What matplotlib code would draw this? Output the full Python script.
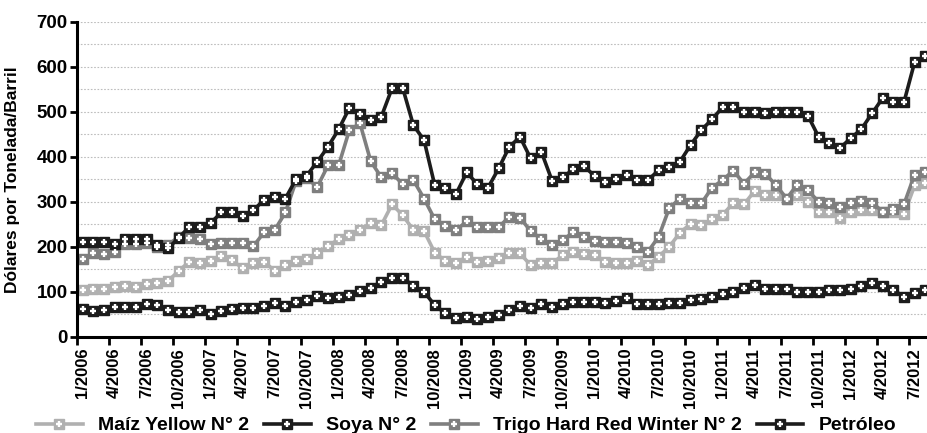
import matplotlib
matplotlib.use("Agg")
import matplotlib.pyplot as plt
from matplotlib.ticker import FixedLocator, MultipleLocator

plt.rcParams['font.family'] = ['Liberation Sans', 'DejaVu Sans']
plt.rcParams['font.weight'] = 'bold'

# monthly values, 1/2006 .. 8/2012
maiz = [104, 107, 106, 111, 113, 111, 116, 119, 124, 146, 167, 163,
        168, 180, 170, 152, 163, 167, 146, 159, 168, 172, 185, 201,
        217, 227, 237, 252, 248, 294, 270, 237, 235, 187, 168, 163,
        178, 167, 168, 174, 185, 185, 159, 163, 163, 181, 189, 183,
        181, 167, 164, 163, 168, 159, 178, 200, 231, 251, 248, 261,
        271, 297, 294, 324, 314, 315, 307, 315, 300, 278, 276, 263,
        276, 281, 281, 278, 278, 272, 336, 341]

soya = [211, 211, 210, 207, 218, 217, 218, 204, 196, 220, 244, 244,
        253, 276, 276, 268, 281, 304, 311, 307, 350, 358, 389, 422,
        461, 508, 495, 481, 489, 552, 553, 470, 437, 337, 330, 317,
        365, 339, 331, 374, 422, 444, 396, 411, 347, 354, 372, 379,
        357, 344, 350, 359, 348, 348, 370, 378, 389, 426, 459, 483,
        510, 511, 499, 500, 496, 499, 500, 500, 491, 444, 430, 419,
        441, 461, 496, 530, 521, 521, 610, 624]

trigo = [172, 185, 183, 189, 205, 207, 209, 199, 204, 222, 219, 216,
         205, 209, 209, 209, 201, 232, 237, 276, 346, 352, 333, 381,
         381, 459, 474, 390, 354, 363, 339, 348, 307, 261, 247, 237,
         256, 243, 243, 243, 267, 264, 235, 217, 204, 215, 232, 221,
         213, 210, 211, 208, 200, 189, 222, 286, 307, 296, 296, 331,
         348, 369, 340, 365, 362, 337, 307, 338, 325, 300, 297, 289,
         298, 301, 298, 278, 283, 294, 360, 365]

petroleo = [61, 58, 59, 67, 67, 67, 72, 70, 59, 56, 56, 59,
            50, 58, 61, 64, 63, 68, 74, 69, 78, 81, 90, 87,
            89, 93, 102, 109, 122, 130, 131, 113, 100, 70, 52, 41,
            44, 39, 44, 48, 59, 69, 63, 72, 67, 72, 76, 76,
            76, 74, 79, 85, 73, 72, 72, 74, 74, 81, 84, 89,
            95, 100, 108, 115, 107, 105, 106, 99, 99, 99, 104, 103,
            106, 113, 119, 113, 104, 89, 96, 104]

months = [f"{m}/{y}" for y in range(2006, 2013) for m in range(1, 13)][:len(soya)]

series = [
    ("Maíz Yellow N° 2", maiz, "#b0b0b0"),
    ("Soya N° 2", soya, "#1c1c1c"),
    ("Trigo Hard Red Winter N° 2", trigo, "#7f7f7f"),
    ("Petróleo", petroleo, "#1c1c1c"),
]

fig = plt.figure(figsize=(9.27, 4.33), dpi=100)
ax = fig.add_axes([0.0835, 0.2224, 0.9204, 0.7275])

x = list(range(len(soya)))
handles = {}
for name in ["Petróleo", "Maíz Yellow N° 2", "Trigo Hard Red Winter N° 2", "Soya N° 2"]:
    label, vals, col = next(s for s in series if s[0] == name)
    ln, = ax.plot(x, vals, color=col, lw=2.6, marker='s', ms=7.5,
                  mfc=col, mec=col, solid_joinstyle='miter', zorder=3)
    pl, = ax.plot(x, vals, ls='none', marker='+', ms=5, mew=1.7,
                  color='white', zorder=4)
    handles[name] = (ln, pl)

ax.set_xlim(-0.5, 79.5)
ax.set_ylim(0, 700)

# y axis
ax.yaxis.set_major_locator(MultipleLocator(100))
ax.yaxis.set_minor_locator(MultipleLocator(50))
ax.grid(axis='y', which='both', color='#bdbdbd', ls=(0, (1.5, 1.5)), lw=0.8, zorder=1)
ax.tick_params(axis='y', which='major', direction='out', length=5, width=2,
               labelsize=13.5, pad=2)
ax.tick_params(axis='y', which='minor', length=0)
for t in ax.get_yticklabels():
    t.set_fontweight('bold')

# x axis: tick marks at category boundaries, labels centred on categories
label_pos = list(range(0, len(soya), 3))
ax.xaxis.set_major_locator(FixedLocator([p - 0.5 for p in label_pos]))
ax.xaxis.set_minor_locator(FixedLocator(label_pos))
ax.set_xticklabels([])
ax.set_xticklabels([months[p] for p in label_pos], minor=True, rotation=90,
                   fontsize=12, fontweight='bold', va='top', ha='center')
ax.tick_params(axis='x', which='major', direction='out', length=6, width=2)
ax.tick_params(axis='x', which='minor', length=0, pad=8)

for side in ['top', 'right']:
    ax.spines[side].set_visible(False)
for side in ['left', 'bottom']:
    ax.spines[side].set_linewidth(2.2)
    ax.spines[side].set_color('black')
    ax.spines[side].set_zorder(5)

ax.set_ylabel("Dólares por Tonelada/Barril", fontsize=12.5, fontweight='bold')
ax.yaxis.set_label_coords(-0.067, 0.5)

order = [s[0] for s in series]
fig.legend([handles[n] for n in order], order, loc='center', ncol=4,
           bbox_to_anchor=(0.503, 0.017), frameon=False,
           prop={'size': 14, 'weight': 'bold'}, handlelength=2.4,
           handletextpad=0.8, columnspacing=0.75, borderpad=0, borderaxespad=0)

fig.savefig("out.png", dpi=100)
